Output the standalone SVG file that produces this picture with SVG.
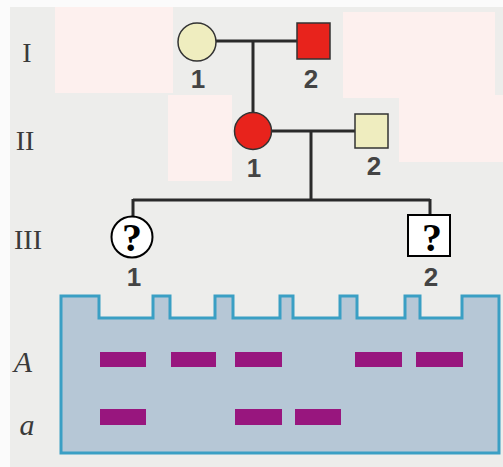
<svg xmlns="http://www.w3.org/2000/svg" width="503" height="467" viewBox="0 0 503 467">
<style>
.ln{stroke:#2a2a2a;stroke-width:3;fill:none}
.sym{stroke:#333;stroke-width:1.5}
.yel{fill:#efedbf}
.red{fill:#e8231c}
.num{font-family:"Liberation Sans",Arial,sans-serif;font-weight:bold;font-size:26px;fill:#444;text-anchor:middle}
.rom{font-family:"Liberation Serif","Times New Roman",serif;font-size:28px;fill:#3a3a3a;text-anchor:middle}
.q{font-family:"Liberation Serif","Times New Roman",serif;font-weight:bold;font-size:40px;fill:#000;text-anchor:middle}
.al{font-family:"Liberation Serif","Times New Roman",serif;font-style:italic;font-size:30px;fill:#3a3a3a;text-anchor:middle}
.band{fill:#98167e}
.patch{fill:#fdf0ee}
</style>
<rect width="503" height="467" fill="#ededeb"/>
<rect x="0" y="0" width="503" height="7" fill="#fbfbfb"/>
<rect x="0" y="0" width="10" height="467" fill="#fbfbfb"/>
<rect class="patch" x="55" y="7" width="118" height="86"/>
<rect class="patch" x="343" y="12" width="152" height="86"/>
<rect class="patch" x="168" y="95" width="64" height="86"/>
<rect class="patch" x="399" y="95" width="104" height="67"/>
<g id="roman">
<text class="rom" x="27" y="62">I</text>
<text class="rom" x="25" y="150">II</text>
<text class="rom" x="28" y="249">III</text>
</g>
<g id="connectors">
<path class="ln" d="M216,41 H298 M253,41 V113"/>
<path class="ln" d="M272,131 H356 M311,131 V200"/>
<path class="ln" d="M133,200 H430 M133,199 V217 M430,199 V215"/>
</g>
<g id="I-1"><circle class="sym yel" cx="197" cy="42" r="19"/><text class="num" x="198" y="88">1</text></g>
<g id="I-2"><rect class="sym red" x="297" y="23" width="33" height="36"/><text class="num" x="311" y="88">2</text></g>
<g id="II-1"><circle class="sym red" cx="253" cy="131" r="18.5"/><text class="num" x="254" y="177">1</text></g>
<g id="II-2"><rect class="sym yel" x="355" y="114" width="33" height="34"/><text class="num" x="374" y="175">2</text></g>
<g id="III-1"><circle cx="132" cy="237" r="20.5" fill="#fff" stroke="#000" stroke-width="2"/><text class="q" x="132" y="251">?</text><text class="num" x="134" y="286" font-size="24">1</text></g>
<g id="III-2"><rect x="408" y="215" width="42" height="41" fill="#fff" stroke="#000" stroke-width="2"/><text class="q" x="432" y="251">?</text><text class="num" x="431" y="286" font-size="24">2</text></g>
<g id="gel">
<path d="M61,296 H99 V318 H153 V296 H170 V318 H215 V296 H233 V318 H280 V296 H293 V318 H340 V296 H357 V318 H405 V296 H420 V318 H462 V296 H499 V453 H61 Z" fill="#b6c7d6" stroke="#3a9fc4" stroke-width="3"/>
<rect class="band" x="100" y="352" width="46" height="15"/>
<rect class="band" x="171" y="352" width="45" height="15"/>
<rect class="band" x="235" y="352" width="47" height="15"/>
<rect class="band" x="355" y="352" width="47" height="15"/>
<rect class="band" x="416" y="352" width="47" height="15"/>
<rect class="band" x="100" y="409" width="46" height="16"/>
<rect class="band" x="235" y="409" width="47" height="16"/>
<rect class="band" x="295" y="409" width="46" height="16"/>
</g>
<g id="alleles">
<text class="al" x="23" y="372">A</text>
<text class="al" x="27" y="435">a</text>
</g>
</svg>
